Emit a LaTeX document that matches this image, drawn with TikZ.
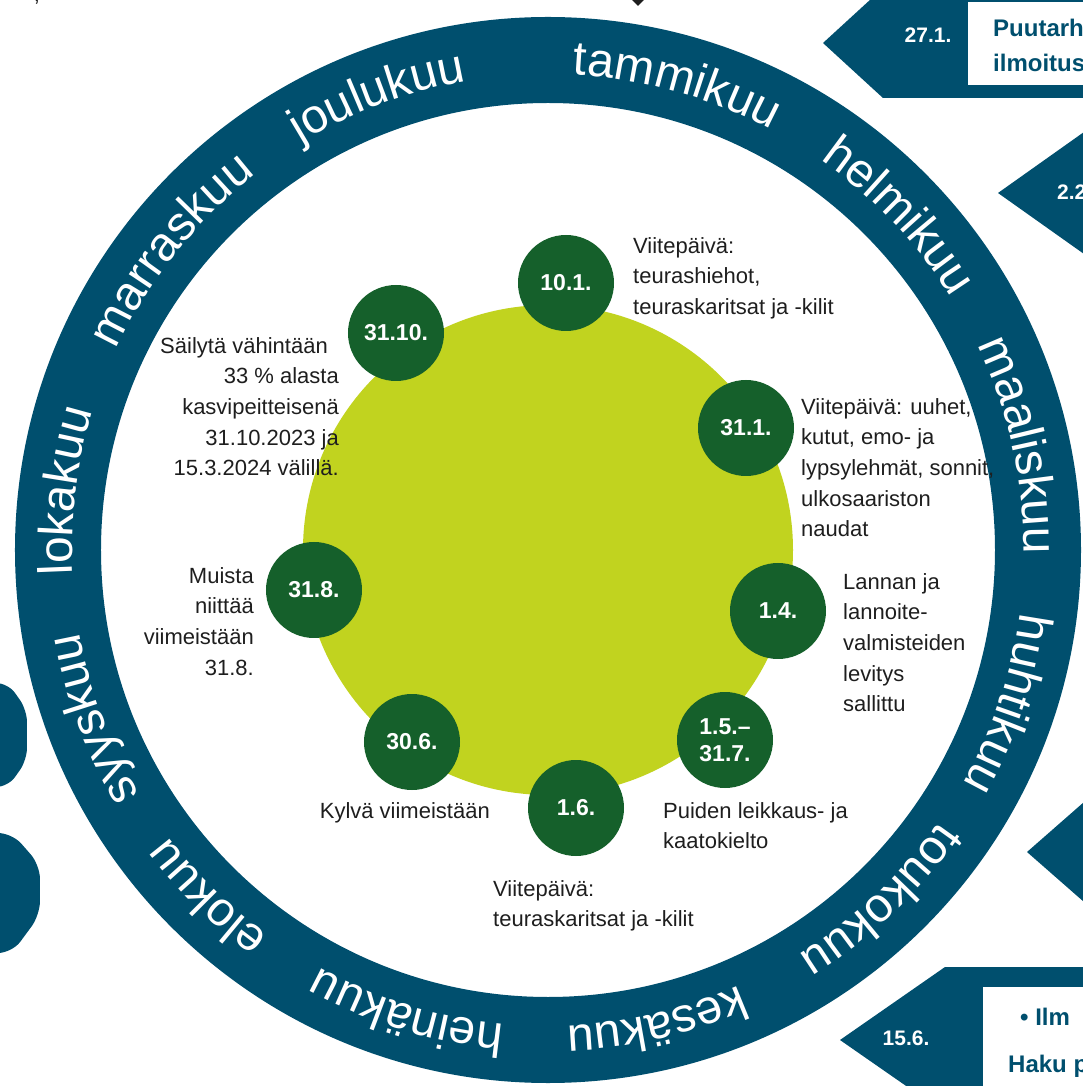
\documentclass[tikz,border=0pt]{standalone}
\usepackage{fontspec}
\setmainfont{Liberation Sans}
\usetikzlibrary{decorations.text}
\definecolor{ringblue}{HTML}{004F6E}
\definecolor{limegreen}{HTML}{C1D31F}
\definecolor{darkgreen}{HTML}{15602B}
\definecolor{notetext}{HTML}{1E1E1E}
\newcommand\monthfont{\fontsize{48}{48}\selectfont}
\tikzset{
  monthtext/.style={decorate, decoration={text along path, text align=center, text color=white, text={|\monthfont|#1}}},
  daycircle/.style={circle, fill=darkgreen, minimum size=96pt, inner sep=0pt, text=white, align=center, font=\bfseries\fontsize{23}{27}\selectfont},
  note/.style={inner sep=0pt, text=notetext, font=\fontsize{22}{30.7}\selectfont},
  tab/.style={fill=ringblue, draw=none},
  tablabel/.style={inner sep=0pt, text=white, font=\bfseries\fontsize{21}{24}\selectfont},
  boxtext/.style={inner sep=0pt, text=ringblue, font=\bfseries\fontsize{24}{28}\selectfont}
}
\begin{document}
\begin{tikzpicture}[x=1pt,y=1pt]
\useasboundingbox (-548,-536) rectangle (535,550);
\clip (-548,-536) rectangle (535,550);
% ring
\fill[ringblue, even odd rule] (0,0) circle[radius=533] (0,0) circle[radius=447];
% months
\path[monthtext=tammikuu] (104.5:476) arc[start angle=104.5, end angle=44.5, radius=476];
\path[monthtext=helmikuu] (73.6:476) arc[start angle=73.6, end angle=13.6, radius=476];
\path[monthtext=maaliskuu] (42.5:476) arc[start angle=42.5, end angle=-17.5, radius=476];
\path[monthtext=huhtikuu] (11.5:476) arc[start angle=11.5, end angle=-48.5, radius=476];
\path[monthtext=toukokuu] (-16.5:476) arc[start angle=-16.5, end angle=-76.5, radius=476];
\path[monthtext=kesäkuu] (-47:476) arc[start angle=-47, end angle=-107, radius=476];
\path[monthtext=heinäkuu] (-77:476) arc[start angle=-77, end angle=-137, radius=476];
\path[monthtext=elokuu] (-104.4:476) arc[start angle=-104.4, end angle=-164.4, radius=476];
\path[monthtext=syyskuu] (-129.6:476) arc[start angle=-129.6, end angle=-189.6, radius=476];
\path[monthtext=lokakuu] (203:476) arc[start angle=203, end angle=143, radius=476];
\path[monthtext=marraskuu] (171.5:476) arc[start angle=171.5, end angle=111.5, radius=476];
\path[monthtext=joulukuu] (140.6:476) arc[start angle=140.6, end angle=80.6, radius=476];
% centre disc
\fill[limegreen] (0,0) circle[radius=245];
% day circles
\node[daycircle] (c101) at (18,267) {10.1.};
\node[daycircle] (c3110) at (-152,217) {31.10.};
\node[daycircle] (c311) at (198,122) {31.1.};
\node[daycircle] (c318) at (-234,-40) {31.8.};
\node[daycircle] (c14) at (230,-61) {1.4.};
\node[daycircle] (c306) at (-136,-192) {30.6.};
\node[daycircle] (c15) at (177,-190) {1.5.–\\31.7.};
\node[daycircle] (c16) at (28,-258) {1.6.};
% notes
\node[note, anchor=north west, align=left] (n101) at (85,313) {Viitepäivä:\\teurashiehot,\\teuraskaritsat ja -kilit};
\node[note, anchor=north west, align=left] (n311) at (253,152) {Viitepäivä: uuhet,\\kutut, emo- ja\\lypsylehmät, sonnit,\\ulkosaariston\\naudat};
\node[note, anchor=north west, align=left] (n14) at (295,-23) {Lannan ja\\lannoite-\\valmisteiden\\levitys\\sallittu};
\node[note, anchor=north west, align=left] (n15) at (115,-252) {Puiden leikkaus- ja\\kaatokielto};
\node[note, anchor=north west, align=left] (n16) at (-55,-330) {Viitepäivä:\\teuraskaritsat ja -kilit};
\node[note, anchor=north east, align=right] (n306) at (-58,-252) {Kylvä viimeistään};
\node[note, anchor=north east, align=right] (n318) at (-294,-17) {Muista\\niittää\\viimeistään\\31.8.};
\node[note, anchor=north east, align=right] (n3110) at (-209,213) {Säilytä vähintään\hspace*{11pt}\\33 \% alasta\\kasvipeitteisenä\\31.10.2023 ja\\15.3.2024 välillä.};
% right-hand tabs
\fill[tab] (275,507) -- (335,562) -- (560,562) -- (560,452) -- (335,452) -- cycle;
\fill[white] (420,548) rectangle (560,465);
\node[tablabel, anchor=base] (t271) at (380,507) {27.1.};
\node[boxtext, anchor=base west] (b271a) at (445,513) {Puutarh};
\node[boxtext, anchor=base west] (b271b) at (445,478) {ilmoitus};
\fill[tab] (450,357) -- (560,435) -- (560,279) -- cycle;
\node[tablabel, anchor=base west] (t22) at (509,350) {2.2};
\fill[tab] (479,-302) -- (560,-231) -- (560,-373) -- cycle;
\fill[tab] (292,-490) -- (397,-417) -- (560,-417) -- (560,-563) -- (397,-563) -- cycle;
\fill[white] (435,-437) rectangle (560,-560);
\node[tablabel, anchor=base] (t156) at (358,-495) {15.6.};
\node[boxtext, anchor=base west] (b156a) at (472,-475) {• Ilm};
\node[boxtext, anchor=base west] (b156b) at (460,-522) {Haku p};
% left-hand partial shapes
\fill[tab, rounded corners=12pt] (-570,-133) -- (-540,-133) -- (-521,-160) -- (-521,-210) -- (-540,-237) -- (-570,-237) -- cycle;
\fill[tab, rounded corners=14pt] (-570,-283) -- (-536,-283) -- (-508,-315) -- (-508,-365) -- (-536,-403) -- (-570,-403) -- cycle;
% small marks at the top edge
\fill[notetext] (82,552) -- (98,552) -- (90,544) -- cycle;
\node[note, anchor=base] (comma) at (-511,548) {,};
\end{tikzpicture}
\end{document}
